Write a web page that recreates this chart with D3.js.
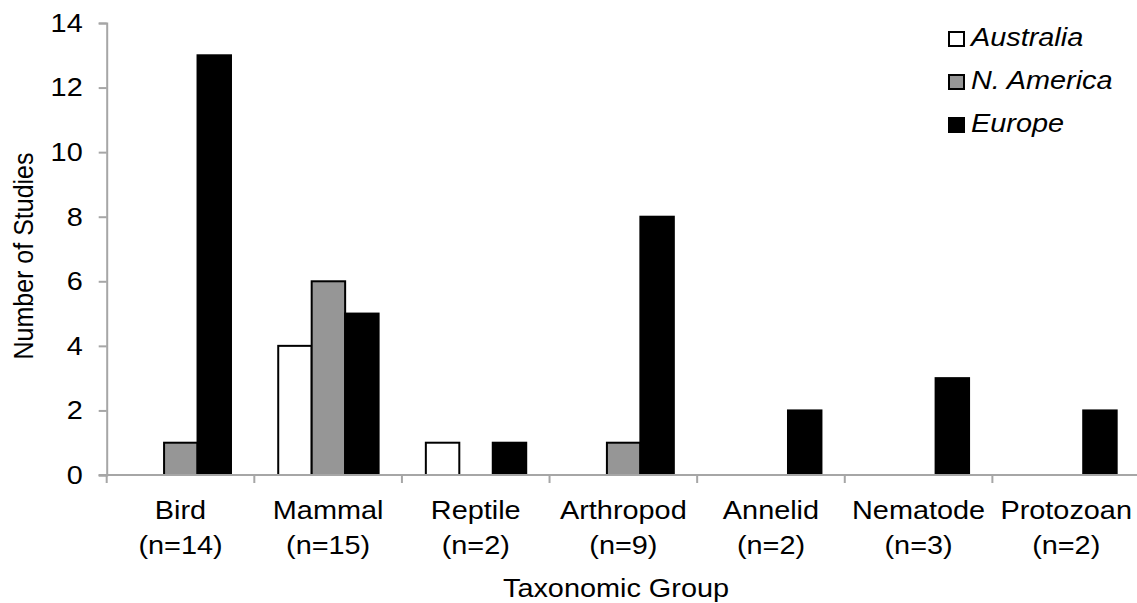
<!DOCTYPE html>
<html><head><meta charset="utf-8">
<script src="https://cdn.jsdelivr.net/npm/d3@7"></script>
<style>body{margin:0;background:#fff;overflow:hidden}svg{display:block;font-family:"Liberation Sans",Arial,sans-serif}</style>
</head><body><svg id="c" width="1137" height="603"></svg>
<script>
const categories = ["Bird","Mammal","Reptile","Arthropod","Annelid","Nematode","Protozoan"];
const counts = ["(n=14)","(n=15)","(n=2)","(n=9)","(n=2)","(n=3)","(n=2)"];
const regions = ["Australia","N. America","Europe"];
const australia = [0,4,1,0,0,0,0];
const nAmerica = [1,6,0,1,0,0,0];
const europe = [13,5,1,8,2,3,2];
const yTicks = [0,2,4,6,8,10,12,14];
const colors = ["#ffffff","#969696","#000000"];

(function(){
const series = [australia, nAmerica, europe];
const svg = d3.select("#c");
const mL = 106.7, mR = 1140, mT = 23, mB = 475;
const SX = 1.11, FS = 26;
const x0 = d3.scaleBand().domain(categories).range([mL,mR]).padding(0);
const bw = x0.bandwidth();
const x1 = d3.scaleBand().domain(regions).range([bw*0.162, bw*0.842]).padding(0);
const y = d3.scaleLinear().domain([0,14]).range([mB, mT]);
const axisColor = "#a6a6a6";

function label(parent, x, yy, txt, anchor, italic){
  const t = parent.append("text").attr("transform",`translate(${x},${yy}) scale(${SX},1)`)
    .attr("text-anchor",anchor).attr("font-size",FS).attr("fill","#000").text(txt);
  if(italic) t.attr("font-style","italic");
  return t;
}

const ya = svg.append("g").attr("transform",`translate(${mL},0)`)
  .call(d3.axisLeft(y).tickValues(yTicks).tickSize(8).tickPadding(16));
ya.select(".domain").attr("stroke",axisColor).attr("stroke-width",2);
ya.selectAll(".tick line").attr("stroke",axisColor).attr("stroke-width",2);
ya.selectAll(".tick text").attr("font-size",FS).attr("fill","#000")
  .attr("font-family","Liberation Sans, Arial, sans-serif")
  .attr("transform",`translate(-24,0) scale(${SX},1)`).attr("x",0);

categories.forEach((c,i)=>{
  regions.forEach((r,j)=>{
    const v = series[j][i];
    if(v>0){
      svg.append("rect")
        .attr("x", x0(c)+x1(r)).attr("width", x1.bandwidth())
        .attr("y", y(v)).attr("height", y(0)-y(v))
        .attr("fill", colors[j]).attr("stroke","#000").attr("stroke-width",2);
    }
  });
});

const xa = svg.append("g").attr("transform",`translate(0,${mB})`);
xa.append("line").attr("x1",mL-8).attr("x2",mR).attr("y1",0).attr("y2",0).attr("stroke",axisColor).attr("stroke-width",2);
const bounds = categories.map(c=>x0(c)).concat([mR]);
bounds.forEach(b=>xa.append("line").attr("x1",b).attr("x2",b).attr("y1",0).attr("y2",8).attr("stroke",axisColor).attr("stroke-width",2));
categories.forEach((c,i)=>{
  label(xa, x0(c)+bw/2, 44, c, "middle");
  label(xa, x0(c)+bw/2, 79, counts[i], "middle");
});

label(svg, 616, 597, "Taxonomic Group", "middle");
svg.append("text").attr("transform",`translate(33,256) rotate(-90) scale(1,${SX})`)
  .attr("text-anchor","middle").attr("font-size",25).text("Number of Studies");

const lg = svg.append("g");
regions.forEach((r,j)=>{
  const yy = 39 + j*43;
  lg.append("rect").attr("x",949).attr("y",yy-7).attr("width",15).attr("height",14)
    .attr("fill",colors[j]).attr("stroke","#000").attr("stroke-width",2);
  label(lg, 971, yy+7, r, "start", true);
});
})();
</script></body></html>
